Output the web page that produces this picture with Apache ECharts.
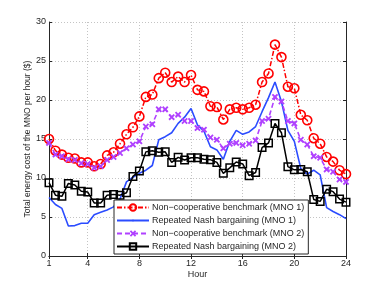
<!DOCTYPE html>
<html><head><meta charset="utf-8">
<script src="https://cdn.jsdelivr.net/npm/echarts@6/dist/echarts.min.js"></script>
<style>html,body{margin:0;padding:0;background:#fff}#c{width:382px;height:287px}</style>
</head><body><div id="c"></div>
<script>
const hours = [1,1.5,2,2.5,3,3.5,4,4.5,5,5.5,6,6.5,7,7.5,8,8.5,9,9.5,10,10.5,11,11.5,12,12.5,13,13.5,14,14.5,15,15.5,16,16.5,17,17.5,18,18.5,19,19.5,20,20.5,21,21.5,22,22.5,23,23.5,24];
const nonCoopMNO1 = [15.0,13.5,13.0,12.6,12.5,12.0,12.0,11.5,11.8,12.9,13.3,14.4,15.6,16.5,17.9,20.4,20.7,22.8,23.5,22.3,23.0,22.3,23.2,21.3,21.1,19.2,19.1,17.5,18.8,19.0,18.8,19.0,19.4,22.3,23.4,27.1,25.5,21.7,21.5,18.1,17.4,15.1,14.4,12.7,12.1,11.0,10.5];
const nashMNO1 = [7.5,6.6,6.1,3.85,3.9,4.2,4.2,5.3,5.6,5.9,6.3,7.3,9.5,10.1,10.6,11.0,11.6,14.9,15.3,15.8,17.0,17.8,18.9,16.8,16.0,14.0,13.6,12.4,14.7,16.1,15.6,15.9,16.6,18.5,20.3,22.3,19.8,16.1,14.7,11.2,10.5,11.0,10.4,6.2,5.7,5.3,4.8];
const nonCoopMNO2 = [14.5,13.0,12.8,12.4,12.3,11.9,11.8,11.3,11.5,12.3,12.7,13.2,13.8,14.3,14.7,16.6,16.9,18.8,18.8,17.8,18.1,17.3,17.3,16.4,16.2,15.2,14.9,13.8,14.4,14.5,14.2,14.4,14.8,17.3,17.6,20.4,19.8,17.3,17.0,14.9,14.3,12.8,12.6,11.1,10.8,9.8,9.5];
const nashMNO2 = [9.4,7.8,7.65,9.3,9.1,8.3,8.2,6.8,6.8,7.8,7.9,7.8,8.1,10.2,10.9,13.35,13.5,13.3,13.35,12.0,12.65,12.3,12.6,12.6,12.4,12.35,12.0,10.6,11.3,12.05,11.8,10.3,10.7,13.9,14.5,17.0,15.8,11.45,11.05,11.1,10.8,7.25,7.0,8.55,8.25,7.3,6.9];
const xTicks = [1,4,8,12,16,20,24];
const seriesNames = ['Non\u2212cooperative benchmark (MNO 1)','Repeated Nash bargaining (MNO 1)','Non\u2212cooperative benchmark (MNO 2)','Repeated Nash bargaining (MNO 2)'];
const xName = 'Hour';
const yName = 'Total energy cost of the MNO per hour ($)';

const FONT = 'Liberation Sans, Arial, sans-serif';
const AX = '#262626';
const pair = v => hours.map((h,i)=>[h, v[i]]);
const xMark = 'path://M0,2L2,0L5,3L8,0L10,2L7,5L10,8L8,10L5,7L2,10L0,8L3,5Z';
const dotMark = 'path://M0,0L0.01,0L0,0.01Z M3.8,3.8L6.2,3.8L6.2,6.2L3.8,6.2Z M9.99,10L10,10L10,9.99Z';

const chart = echarts.init(document.getElementById('c'), null, {renderer:'canvas'});
chart.setOption({
  animation:false,
  backgroundColor:'#fff',
  grid:{left:49,right:36,top:22,bottom:31,containLabel:false},
  xAxis:[{
    type:'value',min:1,max:24,position:'bottom',
    name:xName,nameLocation:'middle',nameGap:14,nameMoveOverlap:false,
    nameTextStyle:{fontFamily:FONT,fontSize:9,color:AX},
    axisLine:{show:true,lineStyle:{color:AX,width:1}},
    axisTick:{show:true,inside:true,length:3,customValues:xTicks,lineStyle:{color:AX}},
    axisLabel:{customValues:xTicks,fontFamily:FONT,fontSize:9,color:AX,margin:3},
    splitLine:{show:true,lineStyle:{color:'#c4c4c4',type:[1,2],width:1}}
  },{
    type:'value',min:1,max:24,position:'top',
    axisLine:{show:true,lineStyle:{color:AX,width:1}},
    axisTick:{show:true,inside:true,length:3,customValues:xTicks,lineStyle:{color:AX}},
    axisLabel:{show:false},
    splitLine:{show:false}
  }],
  yAxis:[{
    type:'value',min:0,max:30,interval:5,position:'left',
    name:yName,nameLocation:'middle',nameGap:17,nameMoveOverlap:false,
    nameTextStyle:{fontFamily:FONT,fontSize:8.5,color:AX},
    axisLine:{show:true,lineStyle:{color:AX,width:1}},
    axisTick:{show:true,inside:true,length:3,lineStyle:{color:AX}},
    axisLabel:{fontFamily:FONT,fontSize:9,color:AX,margin:3},
    splitLine:{show:true,lineStyle:{color:'#c4c4c4',type:[1,2],width:1}}
  },{
    type:'value',min:0,max:30,interval:5,position:'right',
    axisLine:{show:true,lineStyle:{color:AX,width:1}},
    axisTick:{show:true,inside:true,length:3,lineStyle:{color:AX}},
    axisLabel:{show:false},
    splitLine:{show:false}
  }],
  legend:{
    orient:'vertical',left:114,top:200,z:20,
    backgroundColor:'#fff',borderColor:AX,borderWidth:1,
    padding:[3,4,3,2],itemWidth:32,itemHeight:8,itemGap:4,
    textStyle:{fontFamily:FONT,fontSize:9,color:AX,padding:[0,0,0,-2]},
    data:seriesNames
  },
  series:[{
    name:seriesNames[0],type:'line',data:pair(nonCoopMNO1),
    symbol:'circle',symbolSize:9,
    lineStyle:{color:'#ff0000',width:1.5,type:[5,2,1.5,2]},
    itemStyle:{color:'rgba(255,255,255,0)',borderColor:'#ff0000',borderWidth:1.6},
    color:'#ff0000'
  },{
    name:seriesNames[1],type:'line',data:pair(nashMNO1),
    symbol:dotMark,showSymbol:false,
    lineStyle:{color:'#2b4cff',width:1.6},
    itemStyle:{color:'#2b4cff'},color:'#2b4cff'
  },{
    name:seriesNames[2],type:'line',data:pair(nonCoopMNO2),
    symbol:xMark,symbolSize:6.5,
    lineStyle:{color:'#b041ff',width:1.6,type:[5,3]},
    itemStyle:{color:'#b041ff'},color:'#b041ff'
  },{
    name:seriesNames[3],type:'line',data:pair(nashMNO2),
    symbol:'rect',symbolSize:7.5,
    lineStyle:{color:'#000',width:1.5},
    itemStyle:{color:'rgba(255,255,255,0)',borderColor:'#000',borderWidth:1.5},
    color:'#000'
  }]
});
</script></body></html>
